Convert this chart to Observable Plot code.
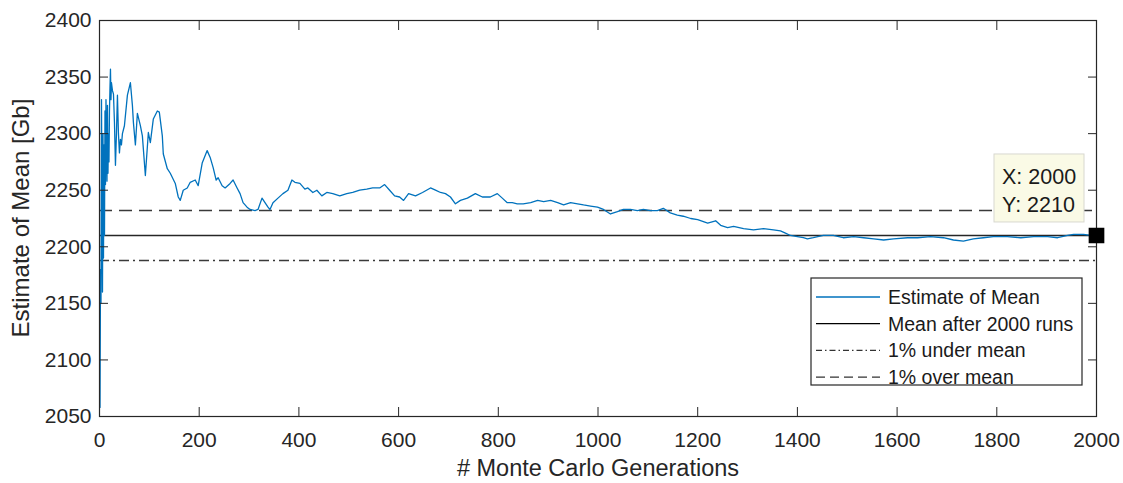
<!DOCTYPE html>
<html><head><meta charset="utf-8">
<script src="https://cdn.jsdelivr.net/npm/d3@7"></script>
<script src="https://cdn.jsdelivr.net/npm/@observablehq/plot@0.6"></script>
<style>body{margin:0;background:#fff;overflow:hidden}</style>
</head><body><div id="chart"></div>
<script>
const generations = [1,2,3,4,5,6,7,8,9,10,11,12,13,14,15,16,17,18,19,20,21,22,23,24,26,28,30,32,34,36,38,40,42,44,46,50,56,62,66,68,72,76,82,86,92,98,102,108,116,120,126,128,136,142,152,158,162,168,176,182,192,198,206,216,222,228,234,238,246,252,262,268,276,282,288,296,302,312,318,326,332,338,342,348,358,368,378,386,392,402,412,418,428,436,446,456,468,482,496,508,522,536,548,562,572,582,592,602,610,620,634,648,664,674,684,694,704,714,724,738,754,768,784,798,808,818,828,838,850,865,879,891,905,919,931,945,959,971,985,999,1011,1025,1039,1051,1065,1079,1091,1105,1119,1131,1145,1159,1171,1186,1200,1220,1236,1246,1260,1272,1292,1312,1332,1352,1366,1376,1386,1400,1412,1420,1432,1452,1472,1492,1513,1533,1553,1573,1593,1621,1641,1667,1693,1713,1733,1753,1773,1793,1821,1848,1874,1902,1922,1942,1954,1974,1988,2000];
const estimateOfMean = [2058,2180,2150,2330,2235,2160,2300,2190,2290,2210,2320,2255,2330,2290,2258,2325,2265,2300,2275,2320,2340,2357,2330,2345,2338,2335,2310,2272,2300,2334,2300,2283,2295,2290,2300,2307,2334,2345,2325,2310,2290,2318,2307,2298,2263,2301,2292,2313,2320,2319,2298,2282,2269,2265,2256,2244,2241,2250,2252,2257,2259,2254,2274,2285,2279,2270,2259,2261,2254,2252,2256,2259,2252,2247,2239,2235,2233,2232,2233,2243,2239,2235,2233,2239,2243,2247,2250,2259,2257,2256,2251,2252,2248,2250,2245,2248,2247,2245,2247,2248,2250,2251,2252,2252,2255,2250,2245,2244,2241,2247,2245,2248,2252,2250,2248,2247,2244,2238,2241,2243,2247,2244,2244,2247,2243,2239,2239,2238,2238,2239,2241,2240,2241,2239,2237,2239,2238,2237,2236,2235,2233,2229,2231,2233,2233,2232,2233,2232,2232,2234,2230,2228,2227,2225,2224,2221,2223,2219,2217,2218,2216,2215,2216,2215,2214,2212,2210,2209,2208,2207,2208,2210,2210,2208,2209,2208,2207,2206,2207,2208,2208,2209,2208,2206,2205,2207,2208,2209,2209,2208,2209,2209,2208,2210,2211,2211,2210,2210];
const meanAfterRuns = 2210;
const underMean = 2187.9;
const overMean = 2232.1;
const tipX = 2000;
const tipY = 2210;
const xTicks = [0,200,400,600,800,1000,1200,1400,1600,1800,2000];
const yTicks = [2050,2100,2150,2200,2250,2300,2350,2400];
const xLabel = "# Monte Carlo Generations";
const yLabel = "Estimate of Mean [Gb]";
const legendLabels = ["Estimate of Mean","Mean after 2000 runs","1% under mean","1% over mean"];

const data = generations.map((g, i) => ({gen: g, value: estimateOfMean[i]}));
const ink = "#262626";
const blue = "#0072BD";

const plot = Plot.plot({
  width: 1123, height: 483,
  marginLeft: 99, marginRight: 27, marginTop: 20, marginBottom: 67,
  style: {fontFamily: "'Liberation Sans', Arial, sans-serif", fontSize: "21px", color: ink, background: "#fff", overflow: "visible"},
  x: {domain: [0, 2000]},
  y: {domain: [2050, 2400]},
  marks: [
    Plot.ruleY([overMean], {stroke: "#3a3a3a", strokeWidth: 1.5, strokeDasharray: "13,7"}),
    Plot.ruleY([underMean], {stroke: "#3a3a3a", strokeWidth: 1.5, strokeDasharray: "10,4,2,4"}),
    Plot.ruleY([meanAfterRuns], {stroke: ink, strokeWidth: 1.4}),
    Plot.line(data, {x: "gen", y: "value", stroke: blue, strokeWidth: 1.3}),
    Plot.frame({stroke: ink, strokeWidth: 1.2}),
    Plot.axisX(xTicks, {anchor: "bottom", tickSize: -9, tickFormat: () => "", label: null, stroke: ink}),
    Plot.axisX(xTicks, {anchor: "top", tickSize: -9, tickFormat: () => "", label: null, stroke: ink}),
    Plot.axisY(yTicks, {anchor: "left", tickSize: -9, tickFormat: () => "", label: null, stroke: ink}),
    Plot.axisY(yTicks, {anchor: "right", tickSize: -9, tickFormat: () => "", label: null, stroke: ink}),
    Plot.axisX(xTicks, {anchor: "bottom", tickSize: 0, tickPadding: 16, tickFormat: d => String(d), label: null, fill: ink}),
    Plot.axisY(yTicks, {anchor: "left", tickSize: 0, tickPadding: 8, tickFormat: d => String(d), label: null, fill: ink}),
    Plot.text([xLabel], {frameAnchor: "bottom", dy: 59, fontSize: 23.5, fill: ink}),
    Plot.dot([{gen: tipX, value: tipY}], {x: "gen", y: "value", symbol: "square", r: 8, fill: "#000", stroke: "#000"})
  ]
});
document.getElementById("chart").appendChild(plot);

const sx = plot.scale("x"), sy = plot.scale("y");
const svg = d3.select(plot);
const fl = sx.apply(0), fr = sx.apply(2000), fb = sy.apply(2050), ft = sy.apply(2400);

// Y axis label
svg.append("text")
  .attr("transform", `translate(${fl - 78},${(fb + ft) / 2}) rotate(-90)`)
  .attr("text-anchor", "middle").attr("dy", "0.35em")
  .attr("font-size", 24).attr("fill", ink).text(yLabel);

// Legend
const lg = svg.append("g").attr("transform", `translate(${fr - 285},${fb - 138})`);
lg.append("rect").attr("width", 271).attr("height", 107).attr("fill", "#fff").attr("stroke", ink).attr("stroke-width", 1.2);
const styles = [
  {stroke: blue, dash: null},
  {stroke: "#000", dash: null},
  {stroke: "#333", dash: "6,3,1.5,3"},
  {stroke: "#333", dash: "9,5"}
];
legendLabels.forEach((t, i) => {
  const yy = 19 + i * 26.7;
  lg.append("line").attr("x1", 5).attr("x2", 69).attr("y1", yy).attr("y2", yy)
    .attr("stroke", styles[i].stroke).attr("stroke-width", 1.3)
    .attr("stroke-dasharray", styles[i].dash);
  lg.append("text").attr("x", 77).attr("y", yy).attr("dy", "0.35em")
    .attr("text-anchor", "start")
    .attr("font-size", 19.5).attr("fill", "#1a1a1a").text(t);
});

// Data tip
const cx = sx.apply(tipX), cy = sy.apply(tipY);
const tip = svg.append("g").attr("transform", `translate(${cx},${cy})`);
tip.append("rect").attr("x", -102).attr("y", -81).attr("width", 90).attr("height", 68)
  .attr("fill", "#fafae6").attr("stroke", "#d8d8d0").attr("stroke-width", 1);
tip.append("text").attr("x", -94).attr("y", -59).attr("dy", "0.35em").attr("text-anchor", "start")
  .attr("font-size", 21.5).attr("fill", "#1a1a1a").text(`X: ${tipX}`);
tip.append("text").attr("x", -94).attr("y", -31).attr("dy", "0.35em").attr("text-anchor", "start")
  .attr("font-size", 21.5).attr("fill", "#1a1a1a").text(`Y: ${tipY}`);
</script>
</body></html>
